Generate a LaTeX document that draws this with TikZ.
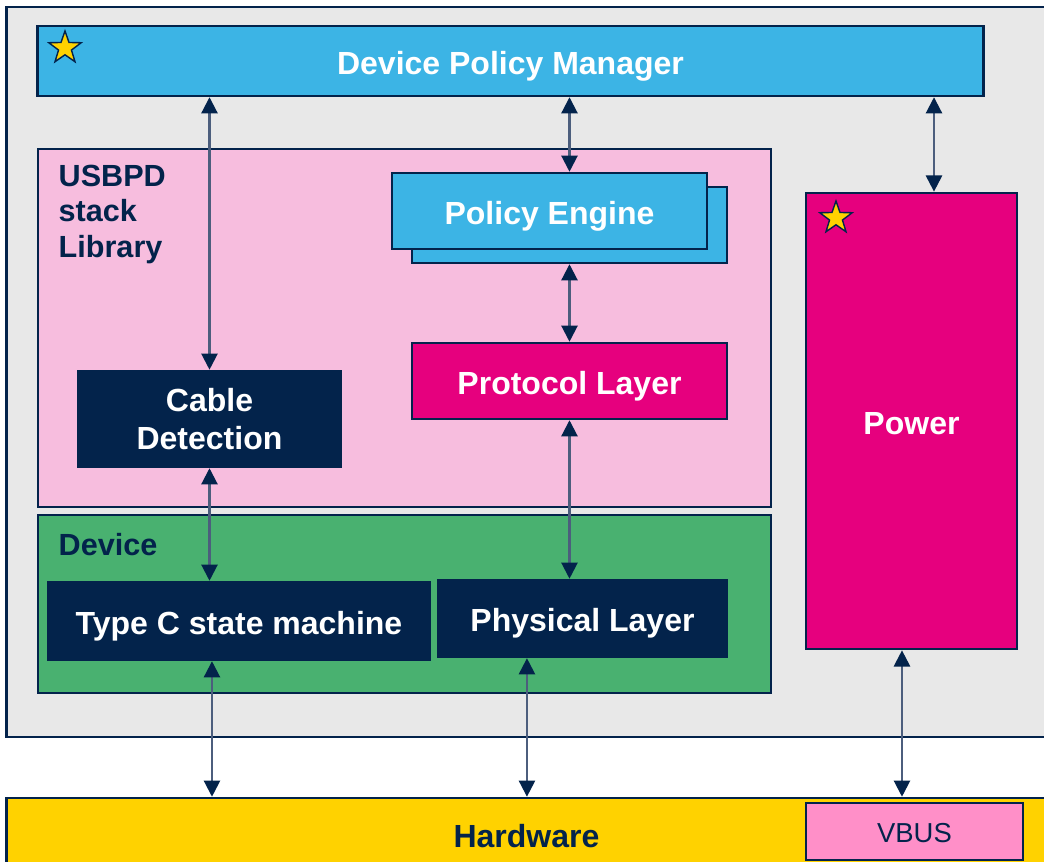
\documentclass[tikz,border=0pt]{standalone}
\usepackage{fontspec}
\setmainfont{Liberation Sans}
\usetikzlibrary{arrows.meta,shapes.geometric}

\definecolor{stnavy}{HTML}{03234B}
\definecolor{stline}{HTML}{4C5E7D}
\definecolor{stgrey}{HTML}{E8E8E8}
\definecolor{stblue}{HTML}{3CB4E5}
\definecolor{stpink}{HTML}{F7BDDE}
\definecolor{stmagenta}{HTML}{E6007E}
\definecolor{stgreen}{HTML}{49B170}
\definecolor{styellow}{HTML}{FFD200}
\definecolor{stvbus}{HTML}{FF8FC8}

\begin{document}
\begin{tikzpicture}[x=0.01cm,y=-0.01cm,
  box/.style={draw=stnavy,line width=0.7pt,inner sep=0pt},
  block/.style={box,font=\bfseries\fontsize{9.1}{10.8}\selectfont,text=white,align=center},
  oneline/.style={text height=0.27cm,text depth=0pt},
  lbl/.style={font=\bfseries\fontsize{8.7}{10.1}\selectfont,text=stnavy,align=left,anchor=north west,inner sep=0pt},
  link/.style={draw=stline,line width=0.6pt,{Triangle[length=4.6pt,width=4.6pt,color=stnavy]}-{Triangle[length=4.6pt,width=4.6pt,color=stnavy]}},
  starmark/.style={star,star points=5,star point ratio=2.5,draw=stnavy,fill=styellow,line width=0.4pt,minimum size=0.34cm,inner sep=0pt}]

\useasboundingbox (0,0) rectangle (1044,862);

% containers
\node[box,fill=stgrey,minimum width=10.39cm,minimum height=7.30cm] (outer) at (526.5,372) {};
\node[block,oneline,fill=stblue,minimum width=9.45cm,minimum height=0.70cm] (dpm) at (510.5,61) {Device Policy Manager};
\node[box,fill=stpink,minimum width=7.33cm,minimum height=3.58cm] (stack) at (404.5,328) {};
\node[box,fill=stgreen,minimum width=7.33cm,minimum height=1.78cm] (device) at (404.5,604) {};
\node[block,oneline,fill=stmagenta,minimum width=2.11cm,minimum height=4.56cm] (power) at (911.5,421) {Power};
\node[block,oneline,fill=styellow,text=stnavy,minimum width=10.39cm,minimum height=0.73cm] (hw) at (526.5,834.5) {Hardware};
\node[box,fill=stvbus,text=stnavy,font=\fontsize{7.8}{9}\selectfont,text height=0.22cm,text depth=0pt,minimum width=2.17cm,minimum height=0.57cm] (vbus) at (914.5,831.5) {VBUS};

% stack blocks
\node[box,fill=stblue,minimum width=3.15cm,minimum height=0.76cm] (peback) at (569.5,225) {};
\node[block,oneline,fill=stblue,minimum width=3.15cm,minimum height=0.76cm] (pe) at (549.5,211) {Policy Engine};
\node[block,oneline,fill=stmagenta,minimum width=3.15cm,minimum height=0.76cm] (protocol) at (569.5,381) {Protocol Layer};
\node[block,fill=stnavy,minimum width=2.63cm,minimum height=0.96cm] (cable) at (209.5,419) {Cable\\Detection};
\node[block,oneline,fill=stnavy,minimum width=3.82cm,minimum height=0.78cm] (typec) at (239,621) {Type C state machine};
\node[block,oneline,fill=stnavy,minimum width=2.89cm,minimum height=0.77cm] (phys) at (582.5,618.5) {Physical Layer};

\node[lbl] (stacklbl) at (58,164) {USBPD\\stack\\Library};
\node[lbl] (devicelbl) at (58,533) {Device};

\node[starmark] (dpmstar) at (65,48) {};
\node[starmark] (powerstar) at (836,218) {};

% links
\coordinate (powin) at ([xshift=0.225cm]power.north);
\coordinate (powout) at ([xshift=-0.095cm]power.south);
\coordinate (typecout) at ([xshift=-0.27cm]typec.south);
\coordinate (physout) at ([xshift=-0.555cm]phys.south);

\draw[link] (cable.north |- dpm.south) -- (cable.north);
\draw[link] (protocol.north |- dpm.south) -- (protocol.north |- pe.north);
\draw[link] (powin |- dpm.south) -- (powin);
\draw[link] (protocol.north |- peback.south) -- (protocol.north);
\draw[link] (protocol.south) -- (protocol.south |- phys.north);
\draw[link] (cable.south) -- (cable.south |- typec.north);
\draw[link] (typecout) -- (typecout |- hw.north);
\draw[link] (physout) -- (physout |- hw.north);
\draw[link] (powout) -- (powout |- hw.north);

\end{tikzpicture}
\end{document}
